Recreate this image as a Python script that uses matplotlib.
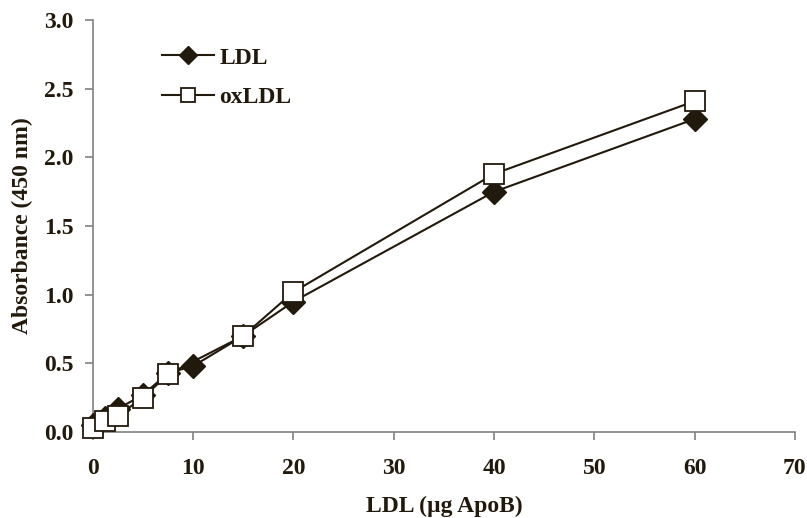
import matplotlib.pyplot as plt
import matplotlib as mpl

mpl.rcParams['font.family'] = 'Liberation Serif'
mpl.rcParams['font.weight'] = 'bold'

# data
ldl_x = [0, 1.25, 2.5, 5, 7.5, 10, 15, 20, 40, 60]
ldl_y = [0.05, 0.10, 0.17, 0.27, 0.43, 0.48, 0.70, 0.95, 1.75, 2.28]
ox_x = [0, 1.25, 2.5, 5, 7.5, 15, 20, 40, 60]
ox_y = [0.03, 0.08, 0.12, 0.25, 0.42, 0.70, 1.02, 1.88, 2.41]

ink = '#22190d'
axcol = '#808080'

fig = plt.figure(figsize=(8.07, 5.18), dpi=100)
ax = fig.add_axes([0.115, 0.166, 0.87, 0.795])

ax.plot(ldl_x, ldl_y, color=ink, lw=1.5, marker='D', ms=12,
        mfc=ink, mec=ink, label='LDL', clip_on=False, zorder=3)
ax.plot(ox_x, ox_y, color=ink, lw=1.5, marker='s', ms=14,
        mfc='white', mec=ink, mew=1.3, label='oxLDL', clip_on=False, zorder=4)

ax.set_xlim(0, 70)
ax.set_ylim(0, 3.0)
ax.set_xticks(range(0, 71, 10))
ax.set_yticks([0, 0.5, 1.0, 1.5, 2.0, 2.5, 3.0])
ax.set_yticklabels(['0.0', '0.5', '1.0', '1.5', '2.0', '2.5', '3.0'])

for s in ['top', 'right']:
    ax.spines[s].set_visible(False)
for s in ['left', 'bottom']:
    ax.spines[s].set_color(axcol)
    ax.spines[s].set_linewidth(1.2)
ax.tick_params(direction='out', length=6, width=1.2, color=axcol,
               labelsize=17, labelcolor=ink)
ax.tick_params(axis='x', pad=13)
ax.tick_params(axis='y', pad=8)

ax.set_xlabel('LDL (\u00b5g ApoB)', fontsize=17, fontweight='bold', color=ink, labelpad=12)
ax.set_ylabel('Absorbance (450 nm)', fontsize=17, fontweight='bold', color=ink, labelpad=8)

leg = ax.legend(loc='upper left', bbox_to_anchor=(0.069, 0.986), frameon=False,
                fontsize=17, handlelength=2.2, labelspacing=0.75, handletextpad=0.2,
                markerscale=0.75)
for t in leg.get_texts():
    t.set_color(ink)

plt.savefig('out.png', dpi=100)
